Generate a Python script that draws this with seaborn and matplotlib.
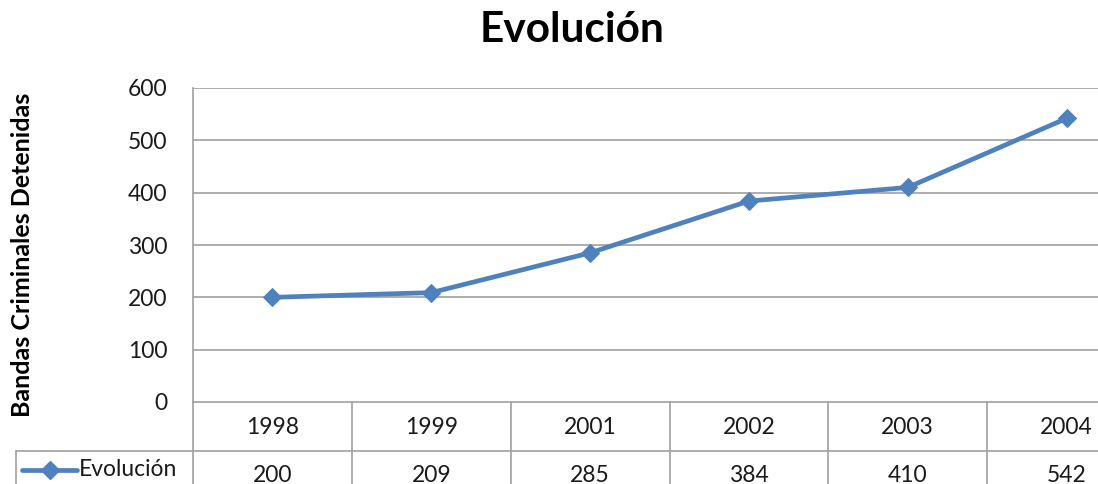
import matplotlib
matplotlib.use("Agg")
import matplotlib.pyplot as plt
from matplotlib.lines import Line2D
import seaborn as sns
import pandas as pd

# Data
years = ["1998", "1999", "2001", "2002", "2003", "2004"]
detained = [200, 209, 285, 384, 410, 542]
series_name = "Evolución"
y_ticks = [0, 100, 200, 300, 400, 500, 600]

sns.set_theme(style="white")
plt.rcParams["font.family"] = ["Lato", "DejaVu Sans"]

W, H = 1098, 484
fig = plt.figure(figsize=(W / 100, H / 100), dpi=100)

# Plot area in pixel space (extends past the right edge of the canvas)
left_px, right_px, top_px, bottom_px = 193, 1146, 88, 402
ax = fig.add_axes([left_px / W, 1 - bottom_px / H,
                   (right_px - left_px) / W, (bottom_px - top_px) / H])

blue = "#4f81bd"
grid_c = "#a0a0a0"
text_c = "#1a1a1a"

df = pd.DataFrame({"pos": range(len(years)), "value": detained})
sns.lineplot(data=df, x="pos", y="value", ax=ax, color=blue, lw=3.4,
             marker="D", markersize=9, markeredgecolor=blue,
             markerfacecolor=blue)

ax.set_xlim(-0.5, len(years) - 0.5)
ax.set_ylim(0, 600)
ax.set_yticks(y_ticks)
ax.set_yticklabels([str(t) for t in y_ticks], fontsize=16.5, color=text_c)
ax.set_xticks([])
ax.set_xlabel("")
ax.set_ylabel("")
ax.tick_params(axis="y", length=0, pad=18.5)
for yv in y_ticks[1:]:
    ax.axhline(yv, color=grid_c, lw=1.2, zorder=0)
for side in ["top", "right"]:
    ax.spines[side].set_visible(False)
for side in ["left", "bottom"]:
    ax.spines[side].set_color(grid_c)
    ax.spines[side].set_linewidth(1.2)


def fy(y):
    """Convert a top-down pixel row to a figure fraction."""
    return (H - y) / H


def hline(x0, x1, y):
    fig.add_artist(Line2D([x0 / W, x1 / W], [fy(y), fy(y)],
                          color=grid_c, lw=1.2, transform=fig.transFigure))


def vline(x, y0, y1):
    fig.add_artist(Line2D([x / W, x / W], [fy(y0), fy(y1)],
                          color=grid_c, lw=1.2, transform=fig.transFigure))


# Data table below the plot
row1_top, row1_bot, row2_bot = 402, 451, 505
col_w = (right_px - left_px) / len(years)

hline(16, right_px, row1_bot)
vline(16, row1_bot, row2_bot)
for i in range(len(years) + 1):
    vline(left_px + i * col_w, row1_top, row2_bot)

for i, (yr, v) in enumerate(zip(years, detained)):
    cx = left_px + (i + 0.5) * col_w
    fig.text(cx / W, fy(427), yr, ha="center", va="center",
             fontsize=16.5, color=text_c)
    fig.text(cx / W, fy(475), str(v), ha="center", va="center",
             fontsize=16.5, color=text_c)

# Legend key inside the table
fig.add_artist(Line2D([22 / W, 77 / W], [fy(470), fy(470)],
                      color=blue, lw=3.4, transform=fig.transFigure))
fig.add_artist(Line2D([49.5 / W], [fy(470)], marker="D", markersize=9,
                      color=blue, transform=fig.transFigure))
fig.text(79 / W, fy(469), series_name, ha="left", va="center",
         fontsize=16.5, color=text_c)

# Title and axis label
fig.text(572 / W, fy(30), "Evolución", ha="center", va="center",
         fontsize=30.5, fontweight="bold", color="#000000")
fig.text(23 / W, fy(255), "Bandas Criminales Detenidas", ha="center",
         va="center", rotation=90, fontsize=18, fontweight="bold",
         color="#000000")

fig.savefig("out.png", dpi=100)
